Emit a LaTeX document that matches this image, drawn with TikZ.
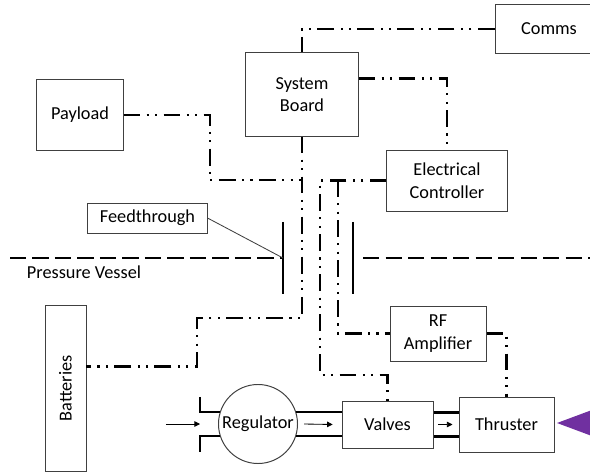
\documentclass[tikz,border=0pt]{standalone}
\usepackage{fontspec}
\setmainfont{Carlito}
\usetikzlibrary{arrows.meta, positioning, shapes, backgrounds}
\definecolor{tippurple}{HTML}{7030A0}

\begin{document}
\begin{tikzpicture}[
    x=0.025cm, y=-0.025cm,
    every node/.style={font=\fontsize{13}{16}\selectfont, align=center},
    unit/.style={draw=black!75, line width=0.7pt, rectangle, inner sep=2pt},
    sig/.style={line width=1.6pt,
                dash pattern=on 12pt off 4.5pt on 1.5pt off 4.5pt on 1.5pt off 4.5pt},
    vessel/.style={line width=2pt, dash pattern=on 11.5pt off 4.5pt},
    plate/.style={line width=1.6pt},
    pipe/.style={line width=1.6pt},
    flow/.style={-{Triangle[length=4pt, width=4pt]}, line width=0.6pt}
]
\useasboundingbox (0,0) rectangle (590,472);
\clip (0,0) rectangle (590,472);

% boxes
\node[unit, minimum width=2.15cm,  minimum height=1.775cm] (payload)  at (80,115)     {Payload};
\node[unit, minimum width=2.8cm,   minimum height=2.075cm] (sysboard) at (302,94.5)   {System\\Board};
\node[unit, minimum width=2.7cm,   minimum height=1.2cm]   (comms)    at (549,29)     {Comms};
\node[unit, minimum width=3.0cm,   minimum height=1.525cm] (elec)     at (447,180.5)  {Electrical\\Controller};
\node[unit, minimum width=2.975cm, minimum height=0.75cm]  (feed)     at (147.5,218)  {Feedthrough};
\node[unit, minimum width=1.025cm, minimum height=4.125cm] (batt)     at (65.5,388.5) {\rotatebox{90}{Batteries}};
\node[unit, minimum width=2.4cm,   minimum height=1.375cm] (rfamp)    at (438,333.5)  {RF\\Amplifier};
\node[unit, minimum width=2.275cm, minimum height=1.175cm] (valves)   at (387.5,424.5) {Valves};
\node[unit, minimum width=2.375cm, minimum height=1.375cm] (thruster) at (506.5,424.5) {Thruster};
\node[unit, circle, minimum size=1.975cm, inner sep=0pt]   (reg)      at (258,424)    {Regulator};

% pressure vessel and feedthrough
\coordinate (pl) at (283,258);
\coordinate (pr) at (353,258);
\draw[vessel] (10,258) -- (pl);
\draw[vessel] ([xshift=0.25cm]pr) -- (600,258);
\draw[plate] ([yshift=0.9cm]pl) -- ([yshift=-0.9cm]pl);
\draw[plate] ([yshift=0.9cm]pr) -- ([yshift=-0.9cm]pr);
\draw[black!75, line width=0.6pt] (feed.east) -- (pl);
\node[anchor=west] (pvlabel) at (22,272) {Pressure Vessel};

% signal and power lines
\coordinate (jp) at (210,180);
\coordinate (jb) at (197,318);
\coordinate (jv) at (320,375);
\coordinate (jr) at (338,180);
\draw[sig] (comms.west) -| (sysboard.north);
\draw[sig] ([yshift=0.4cm]sysboard.east) -| (elec.north);
\draw[sig] (payload.east) -| (jp) -- (jp -| sysboard.south);
\draw[sig] (sysboard.south) |- (jb) |- ([yshift=0.55cm]batt.east);
\draw[sig] (elec.west) -| (jv) -| (valves.north);
\draw[sig] (jr) |- (rfamp.west);
\draw[sig] (rfamp.east) -| (thruster.north);

% propellant feed
\coordinate (inl) at (200,424);
\draw[pipe] ([yshift=0.675cm]inl) |- (reg.162);
\draw[pipe] (reg.198) -| ([yshift=-0.7cm]inl);
\draw[pipe] (reg.18) -- (reg.18 -| valves.west);
\draw[pipe] (reg.-18) -- (reg.-18 -| valves.west);
\draw[pipe] ([yshift=0.3cm]valves.east) -- ([yshift=0.3cm]valves.east -| thruster.west);
\draw[pipe] ([yshift=-0.3cm]valves.east) -- ([yshift=-0.3cm]valves.east -| thruster.west);
\draw[flow] ([xshift=-0.85cm]inl) -- (inl);
\draw[flow] ([xshift=0.15cm]reg.east) -- ([xshift=-0.22cm]valves.west);
\draw[flow] ([xshift=0.12cm]valves.east) -- ([xshift=-0.15cm]thruster.west);

% plume
\fill[tippurple] (557,423) -- (600,407) -- (600,439) -- cycle;
\end{tikzpicture}
\end{document}
